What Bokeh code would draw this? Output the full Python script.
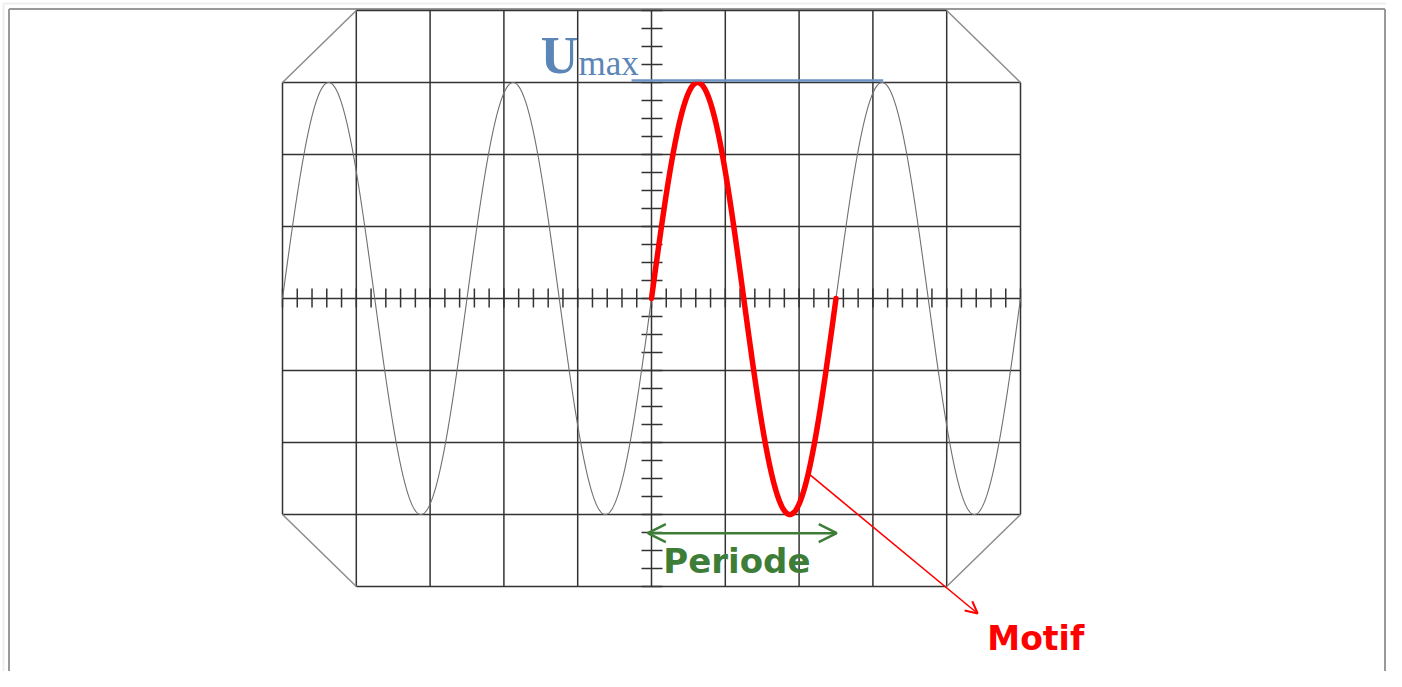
import numpy as np
from bokeh.plotting import figure
from bokeh.models import Range1d, Arrow, OpenHead, Label
from bokeh.embed import file_html
from bokeh.resources import INLINE

# ---- data (oscilloscope screen, in divisions) ----
x_divisions = [-5, -4, -3, -2, -1, 0, 1, 2, 3, 4, 5]
y_divisions = [-4, -3, -2, -1, 0, 1, 2, 3, 4]
x_subdiv_per_div = 5
y_subdiv_per_div = 4
u_max = 3.0          # amplitude, divisions
period = 2.5         # period, divisions
motif_start = 0.0    # start of highlighted period
labels = {"umax_big": "U", "umax_sub": "max", "period": "Periode", "motif": "Motif"}

# ---- layout ----
W, H = 1386, 671
PXX, PXY = 73.8, 72.0          # pixels per division
CX, CY = 651.0, 298.0          # screen centre inside the frame (pixels)
x0, x1 = -CX / PXX, (W - CX) / PXX
y1, y0 = CY / PXY, (CY - H) / PXY

p = figure(width=W, height=H, output_backend="svg", toolbar_location=None,
           x_range=Range1d(x0, x1), y_range=Range1d(y0, y1), min_border=0)
p.axis.visible = False
p.grid.visible = False
p.outline_line_color = None
p.background_fill_color = "white"
p.border_fill_color = "white"

dx, dy = 1 / PXX, 1 / PXY


def px(xp):
    return x0 + xp * dx


def py_(yp):
    return y1 - yp * dy


# page frame: faint outer line and grey inner line (left, top, right)
p.segment(x0=[px(3), px(3)], y0=[y0, py_(3)], x1=[px(3), x1], y1=[py_(3), py_(3)],
          line_color="#eeeeee", line_width=2)
p.segment(x0=[px(8.5), px(8.5), px(1384.5)], y0=[y0, py_(8.5), y0],
          x1=[px(8.5), px(1384.5), px(1384.5)], y1=[py_(8.5), py_(8.5), py_(8.5)],
          line_color="#999999", line_width=2)

xmin, xmax = min(x_divisions), max(x_divisions)
ymin, ymax = min(y_divisions), max(y_divisions)

# grid lines (chamfered corners on the outer ones)
vx0, vy0, vx1, vy1 = [], [], [], []
for xv in x_divisions:
    if xv in (xmin, xmax):
        vx0.append(xv); vy0.append(ymin + 1); vx1.append(xv); vy1.append(ymax - 1)
    else:
        vx0.append(xv); vy0.append(ymin); vx1.append(xv); vy1.append(ymax)
for yv in y_divisions:
    if yv in (ymin, ymax):
        vx0.append(xmin + 1); vy0.append(yv); vx1.append(xmax - 1); vy1.append(yv)
    else:
        vx0.append(xmin); vy0.append(yv); vx1.append(xmax); vy1.append(yv)
p.segment(x0=vx0, y0=vy0, x1=vx1, y1=vy1, line_color="#333333", line_width=1.5)

# chamfer diagonals
p.segment(x0=[xmin, xmax - 1, xmin, xmax - 1], y0=[ymax - 1, ymax, ymin + 1, ymin],
          x1=[xmin + 1, xmax, xmin + 1, xmax], y1=[ymax, ymax - 1, ymin, ymin + 1],
          line_color="#8c8c8c", line_width=1.5)

# centre-axis graduations
tx = np.arange(xmin * x_subdiv_per_div, xmax * x_subdiv_per_div + 1) / x_subdiv_per_div
p.segment(x0=tx, y0=-9 * dy, x1=tx, y1=10 * dy, line_color="#333333", line_width=1.5)
ty = np.arange(ymin * y_subdiv_per_div, ymax * y_subdiv_per_div + 1) / y_subdiv_per_div
p.segment(x0=-10 * dx, y0=ty, x1=11 * dx, y1=ty, line_color="#333333", line_width=1.5)

# full signal (thin grey)
xs = np.linspace(xmin, xmax, 2001)
p.line(xs, u_max * np.sin(2 * np.pi * xs / period), line_color="#707070", line_width=1.1)

# one period highlighted (motif)
xm = np.linspace(motif_start, motif_start + period, 400)
ym = u_max * np.sin(2 * np.pi * (xm - motif_start) / period)
p.line(xm, ym, line_color="#ff0000", line_width=5.5, line_join="round", line_cap="round")

# Umax line
p.segment(x0=[-0.27], y0=[u_max + 2 * dy], x1=[3.14], y1=[u_max + 2 * dy],
          line_color="#6d94c4", line_width=2.5)
p.add_layout(Label(x=-1.50, y=u_max + 0.38, text=labels["umax_big"], text_font="Liberation Serif",
                   text_font_style="bold", text_font_size="52px", text_color="#5b86b6",
                   text_baseline="alphabetic"))
p.add_layout(Label(x=-0.99, y=u_max + 0.26, text=labels["umax_sub"], text_font="Liberation Serif",
                   text_font_size="35px", text_color="#5b86b6", text_baseline="alphabetic"))

# Period arrow
pyv = -u_max - 0.26
p.add_layout(Arrow(x_start=motif_start + period + 0.01, y_start=pyv,
                   x_end=motif_start - 0.05, y_end=pyv,
                   start=OpenHead(size=18, line_color="#3d7d37", line_width=2.5),
                   end=OpenHead(size=18, line_color="#3d7d37", line_width=2.5),
                   line_color="#3d7d37", line_width=2.5))
p.add_layout(Label(x=0.16, y=-3.64, text=labels["period"], text_font="DejaVu Sans",
                   text_font_style="bold", text_font_size="34px", text_color="#3d7d37",
                   text_baseline="alphabetic"))

# Motif pointer, starting on the highlighted curve
ang = 2 * np.pi - np.arcsin(0.81)
mx = motif_start + ang / (2 * np.pi) * period
my = u_max * np.sin(2 * np.pi * (mx - motif_start) / period)
p.add_layout(Arrow(x_start=mx, y_start=my, x_end=4.42, y_end=-4.375,
                   end=OpenHead(size=12, line_color="#ff0000", line_width=2),
                   line_color="#ff0000", line_width=1.6))
p.add_layout(Label(x=4.55, y=-4.72, text=labels["motif"], text_font="DejaVu Sans",
                   text_font_style="bold", text_font_size="33px", text_color="#ff0000",
                   text_baseline="alphabetic"))

open("out.html", "w").write(file_html(p, INLINE))
